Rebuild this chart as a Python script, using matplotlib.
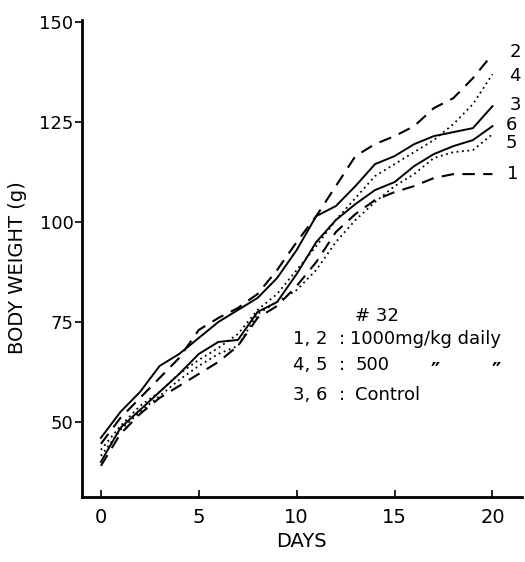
import matplotlib
matplotlib.use("Agg")
import matplotlib.pyplot as plt

days = list(range(21))
line1 = [39, 47, 52, 56, 59, 62, 65, 69, 76, 79, 84, 90, 97.5, 102, 105.5, 107.5, 109, 111, 112, 112, 112]
line2 = [44.5, 51, 56, 61, 66, 73, 76, 78.5, 82, 88, 95, 101.5, 109, 116.5, 119.5, 121.5, 124, 128.5, 131, 136, 142]
line3 = [46, 52.5, 57.5, 64, 67, 71, 75, 78, 81, 86, 93, 101.5, 104, 109, 114.5, 116.5, 119.5, 121.5, 122.5, 123.5, 129]
line4 = [43, 49, 54, 57.5, 62, 65.5, 68.5, 72, 78, 82, 88, 94, 100.5, 106, 111.5, 114.5, 117.5, 120.5, 124.5, 129.5, 137]
line5 = [41.5, 48, 52.5, 56.5, 60.5, 64, 67, 69, 77, 80, 83, 88, 95, 100.5, 105, 109, 112, 116, 117.5, 118, 122]
line6 = [40, 48.5, 53, 57.5, 62, 67, 70, 70.5, 77.5, 80, 87, 95, 100.5, 104.5, 108, 110, 114, 117, 119, 120.5, 124]

series_names = ["1", "2", "3", "4", "5", "6"]
xticks = [0, 5, 10, 15, 20]
yticks = [50, 75, 100, 125, 150]
legend_title = "# 32"
legend_rows = [("1, 2", "1000mg/kg daily"), ("4, 5", "500"), ("3, 6", "Control")]

fig = plt.figure(figsize=(5.25, 5.62), dpi=100)
ax = fig.add_axes([0.156, 0.116, 0.838, 0.848])
ax.set_xlim(-0.97, 21.5)
ax.set_ylim(31.25, 150.5)

dash = (0, (6, 4))
dot = (0, (1, 2))
styles = {
    "1": dict(ls=dash, lw=1.5),
    "2": dict(ls=dash, lw=1.5),
    "3": dict(ls="-", lw=1.4),
    "4": dict(ls=dot, lw=1.3),
    "5": dict(ls=dot, lw=1.3),
    "6": dict(ls="-", lw=1.4),
}
data = {"1": line1, "2": line2, "3": line3, "4": line4, "5": line5, "6": line6}
for name in series_names:
    ax.plot(days, data[name], color="black", **styles[name])

for s in ["top", "right"]:
    ax.spines[s].set_visible(False)
for s in ["left", "bottom"]:
    ax.spines[s].set_linewidth(2)

ax.set_xticks(xticks)
ax.set_yticks(yticks)
ax.tick_params(axis="x", direction="in", length=5, width=1.2, labelsize=14, pad=8)
ax.tick_params(axis="y", direction="out", length=5, width=1.2, labelsize=13, pad=1)

ax.set_xlabel("DAYS", fontsize=14, labelpad=4)
ax.set_ylabel("BODY WEIGHT (g)", fontsize=14)
ax.yaxis.set_label_coords(-0.125, 0.48)

# line-end labels
label_pos = {"2": 142.5, "4": 136.5, "3": 129.2, "6": 124.2, "5": 119.7, "1": 112}
label_x = {"2": 21.15, "4": 21.15, "3": 21.15, "6": 20.95, "5": 20.95, "1": 21.05}
for name, yv in label_pos.items():
    ax.text(label_x[name], yv, name, fontsize=13, ha="center", va="center")

# legend block
ax.text(13.0, 76.5, legend_title, fontsize=13, ha="left", va="center")
row_y = [70.8, 64.2, 56.8]
for (k, v), yv in zip(legend_rows, row_y):
    ax.text(9.8, yv, k, fontsize=13, ha="left", va="center")
    ax.text(12.15, yv, ":", fontsize=13, ha="left", va="center")
    ax.text(13.0 if v != "1000mg/kg daily" else 12.7, yv, v, fontsize=13, ha="left", va="center")
ax.text(17.1, 62.6, "\u2033", fontsize=15, fontweight="bold", ha="center", va="center")
ax.text(20.2, 62.6, "\u2033", fontsize=15, fontweight="bold", ha="center", va="center")

fig.savefig("out.png", dpi=100)
